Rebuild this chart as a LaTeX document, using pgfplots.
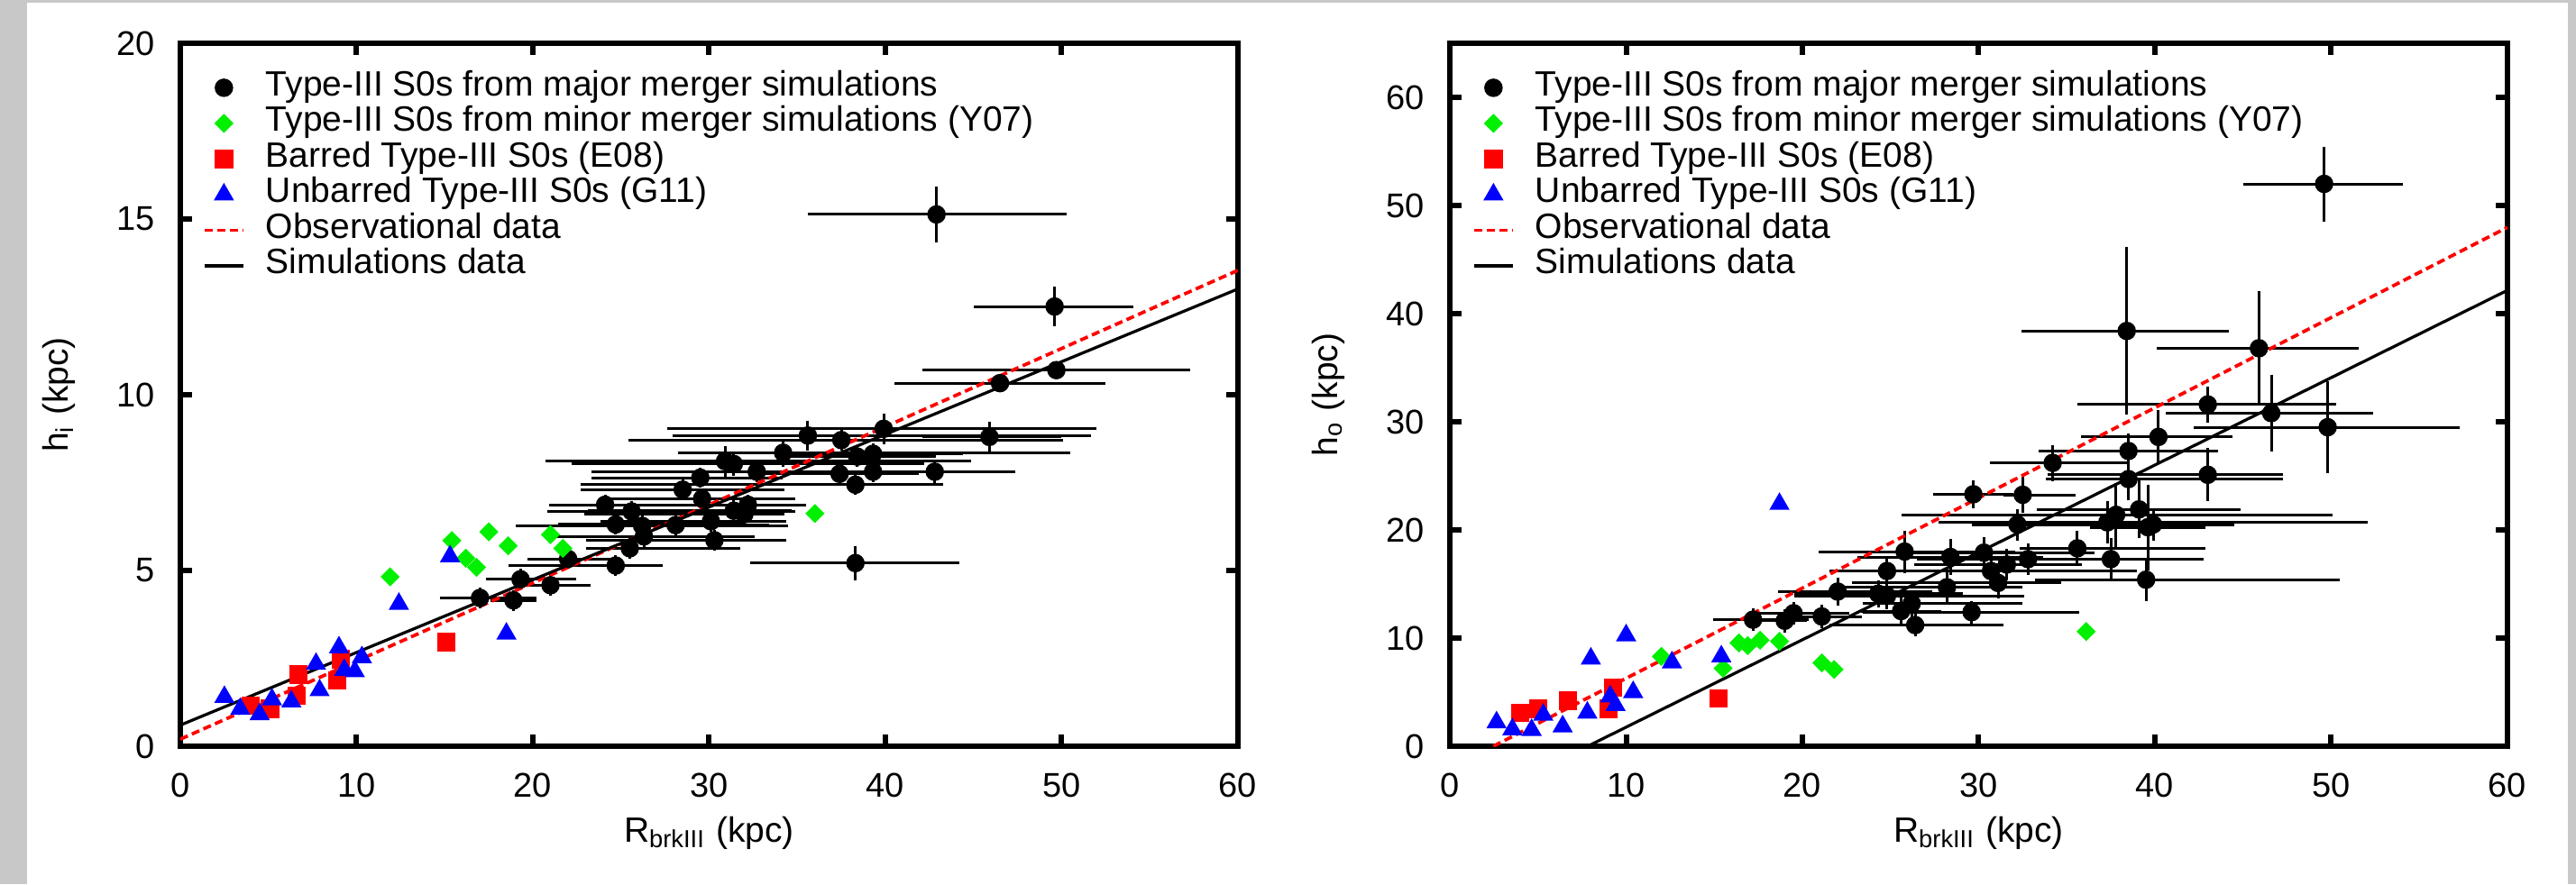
\documentclass[border=0pt]{standalone}
\usepackage{fontspec}
\setmainfont{Liberation Sans}
\usepackage{pgfplots}
\pgfplotsset{compat=1.18}
\usepackage{pgfplotstable}

\definecolor{frameg}{RGB}{200,200,200}
\definecolor{mygreen}{RGB}{0,240,0}

\pgfplotstableread{
x y xm xp ym yp
42.9 15.13 7.0 7.1 0.65 0.65
49.6 12.51 4.3 4.2 0.43 0.43
49.7 10.70 7.3 7.3 0.12 0.12
46.5 10.33 5.7 5.7 0.12 0.12
39.9 9.03 12.0 11.8 0.30 0.30
35.6 8.84 7.4 15.8 0.28 0.28
37.5 8.71 11.8 12.3 0.15 0.15
45.9 8.80 3.5 3.8 0.30 0.30
34.2 8.35 5.7 16.0 0.25 0.25
38.4 8.24 4.0 4.2 0.15 0.15
39.3 8.32 4.6 4.8 0.15 0.15
30.9 8.11 9.9 13.7 0.30 0.30
31.4 8.03 8.9 10.5 0.20 0.20
42.8 7.81 3.5 4.3 0.20 0.20
37.4 7.75 4.0 4.2 0.15 0.15
39.3 7.81 5.0 5.0 0.15 0.15
32.7 7.81 9.1 9.2 0.15 0.15
29.5 7.64 5.9 4.4 0.15 0.15
38.3 7.44 15.3 4.7 0.15 0.15
28.5 7.30 5.5 5.5 0.15 0.15
29.6 7.04 5.0 5.0 0.15 0.15
24.1 6.87 2.9 11.0 0.15 0.15
32.2 6.87 5.0 3.0 0.15 0.15
31.4 6.70 8.0 3.0 0.15 0.15
25.6 6.68 4.5 9.0 0.15 0.15
32.0 6.60 8.8 2.0 0.15 0.15
28.1 6.29 5.0 5.0 0.15 0.15
24.7 6.31 3.0 7.0 0.15 0.15
26.2 6.27 6.9 8.0 0.15 0.15
30.1 6.40 6.0 4.0 0.15 0.15
26.3 5.97 4.7 6.0 0.15 0.15
30.3 5.86 7.0 3.8 0.15 0.15
25.5 5.63 2.2 6.0 0.15 0.15
22.0 5.33 2.0 2.5 0.15 0.15
24.7 5.14 5.8 2.4 0.15 0.15
38.3 5.21 5.7 5.6 0.35 0.35
19.3 4.75 1.7 2.9 0.15 0.15
21.0 4.58 1.5 2.0 0.15 0.15
17.0 4.22 2.0 2.9 0.15 0.15
18.9 4.15 1.0 1.0 0.15 0.15
}\leftblack

\pgfplotstableread{
x y
11.9 4.82
15.4 5.85
17.5 6.10
18.6 5.70
16.2 5.35
16.8 5.09
21.0 6.02
21.7 5.63
36.0 6.62
}\leftgreen

\pgfplotstableread{
x y
4.0 1.15
5.1 1.06
6.6 1.44
6.7 2.04
8.9 1.87
9.1 2.47
15.1 2.96
}\leftred

\pgfplotstableread{
x y
2.5 1.40
3.4 1.06
4.5 0.91
5.2 1.33
6.3 1.27
7.9 1.59
7.7 2.34
9.0 2.81
9.3 2.17
9.9 2.13
10.3 2.53
12.4 4.05
15.3 5.40
18.5 3.20
}\leftblue

\pgfplotstableread{
x y xm xp ym yp
49.6 52.0 4.3 4.2 3.0 3.0
38.4 38.4 5.7 5.5 7.3 7.3
45.9 36.8 5.5 5.4 4.8 4.8
43.0 31.6 7.1 7.0 1.2 1.2
46.6 30.8 5.7 5.5 3.1 3.1
49.8 29.5 7.3 7.2 3.8 3.8
40.2 28.6 4.1 3.9 2.0 2.0
38.5 27.3 4.8 4.8 1.2 1.2
34.2 26.2 3.3 4.0 1.2 1.2
43.0 25.1 8.8 4.0 2.0 2.0
38.5 24.7 4.4 8.5 1.5 1.5
29.7 23.3 2.0 2.0 0.8 0.8
32.5 23.25 0.8 2.7 1.2 1.2
39.1 21.9 5.5 5.5 2.2 2.2
37.8 21.4 11.9 12.0 2.5 2.5
37.3 20.7 9.3 14.5 1.5 1.5
32.2 20.5 2.3 12.0 1.0 1.0
39.6 20.25 3.0 3.0 3.5 3.5
39.9 20.5 6.0 4.0 1.0 1.0
25.8 18.0 4.6 6.0 1.5 1.5
35.6 18.3 3.0 7.0 1.2 1.2
30.3 17.9 4.0 6.0 1.0 1.0
28.4 17.5 5.0 5.0 1.2 1.2
32.8 17.3 6.0 5.0 1.0 1.0
37.5 17.3 5.0 5.0 1.5 1.5
31.6 16.8 5.0 4.0 1.0 1.0
24.8 16.2 3.0 7.0 0.8 0.8
30.7 16.2 7.0 8.0 1.0 1.0
31.1 15.1 8.0 3.3 1.0 1.0
39.5 15.4 6.0 10.7 1.5 1.5
28.2 14.7 6.0 4.0 1.0 1.0
22.0 14.3 3.1 5.1 0.8 0.8
24.3 14.1 4.5 4.5 0.8 0.8
24.8 13.9 5.0 7.5 0.8 0.8
26.2 13.2 2.5 6.0 0.8 0.8
25.6 12.5 2.0 2.0 0.8 0.8
29.6 12.4 5.9 5.8 0.6 0.6
17.2 11.7 2.0 2.9 0.6 0.6
19.0 11.6 1.0 1.0 0.6 0.6
19.5 12.3 1.7 2.9 0.6 0.6
21.1 12.0 1.5 2.0 0.6 0.6
26.4 11.2 4.6 4.7 0.6 0.6
}\rightblack

\pgfplotstableread{
x y
12.0 8.3
15.5 7.2
16.4 9.55
16.9 9.3
17.6 9.8
18.7 9.7
21.1 7.7
21.8 7.1
36.1 10.6
}\rightgreen

\pgfplotstableread{
x y
4.0 3.1
5.0 3.45
6.7 4.2
9.0 3.45
9.25 5.4
15.25 4.4
}\rightred

\pgfplotstableread{
x y
2.65 2.2
3.55 1.56
4.64 1.5
5.3 2.9
6.4 1.83
7.8 3.1
8.0 8.1
9.1 4.6
9.4 3.8
10.0 10.25
10.4 5.0
12.6 7.75
15.4 8.3
18.7 22.4
}\rightblue

\pgfplotsset{
  mystyle/.style={
    scale only axis, width=234.6pt, height=156pt,
    xmin=0, xmax=60, xtick={0,10,...,60},
    axis line style={line width=1.3pt},
    tick style={line width=1.2pt, black},
    major tick length=2.6pt,
    tick align=inside,
    font=\fontsize{7.8}{9}\selectfont,
    ticklabel style={font=\fontsize{7.6}{9}\selectfont},
    /pgf/number format/assume math mode=true,
    yticklabel style={xshift=-2.2pt},
    xticklabel style={yshift=-2.5pt},
    every axis x label/.style={at={(axis description cs:0.5,-0.124)}, anchor=center},
    every axis y label/.style={at={(axis description cs:-0.1151,0.5)}, rotate=90, anchor=center},
    legend style={draw=none, fill=none, at={(axis description cs:0.0213,0.962)}, anchor=north west, inner sep=0pt, outer sep=0pt, font=\fontsize{7.8}{9}\selectfont, row sep=0pt, nodes={inner sep=0pt, text height=5.7pt, text depth=2.2pt}},
    legend cell align=left,
    legend image code/.code={\draw[mark repeat=2,mark phase=2] plot coordinates {(0pt,0pt) (4.3pt,0pt) (8.6pt,0pt)}; \path[draw=none,fill=none] (0pt,0pt) -- (13.6pt,0pt);},
  },
  markleg/.style={legend image code/.code={\draw[only marks] plot coordinates {(4.3pt,0pt)}; \path[draw=none,fill=none] (0pt,0pt) -- (13.6pt,0pt);}},
  blackpts/.style={only marks, mark=*, mark size=1.85pt, black, markleg,
    error bars/x dir=both, error bars/x explicit, error bars/y dir=both, error bars/y explicit,
    error bars/error bar style={line width=0.6pt, black},
    error bars/error mark options={line width=0.6pt, mark size=1.1pt, black}},
  greenpts/.style={only marks, color=mygreen, mark=square*, mark size=1.3pt, mark options={rotate=45}, markleg},
  redpts/.style={only marks, color=red, mark=square*, mark size=1.85pt, markleg},
  bluepts/.style={only marks, color=blue, mark=triangle*, mark size=2.2pt, markleg},
  obsline/.style={red, line width=0.75pt, dash pattern=on 1.8pt off 1pt},
  simline/.style={black, line width=0.65pt},
}

\begin{document}
\begin{tikzpicture}
\useasboundingbox (0,0) rectangle (571.4pt,196.2pt);
\fill[frameg] (0,0) rectangle (571.4pt,196.2pt);
\fill[white] (6pt,0) rectangle (569.6pt,195.6pt);

\begin{axis}[mystyle, at={(40pt,30.6pt)}, anchor=south west,
  ymin=0, ymax=20, ytick={0,5,10,15,20},
  xlabel={R\textsubscript{brkIII} (kpc)}, ylabel={h\textsubscript{i} (kpc)}]
\addplot[blackpts] table[x=x,y=y,x error minus=xm,x error plus=xp,y error minus=ym,y error plus=yp]{\leftblack};
\addlegendentry{Type-III S0s from major merger simulations}
\addplot[greenpts] table[x=x,y=y]{\leftgreen};
\addlegendentry{Type-III S0s from minor merger simulations (Y07)}
\addplot[redpts] table[x=x,y=y]{\leftred};
\addlegendentry{Barred Type-III S0s (E08)}
\addplot[bluepts] table[x=x,y=y]{\leftblue};
\addlegendentry{Unbarred Type-III S0s (G11)}
\addplot[obsline] coordinates {(0,0.2) (60,13.54)};
\addlegendentry{Observational data}
\addplot[simline] coordinates {(0,0.6) (60,13.01)};
\addlegendentry{Simulations data}
\end{axis}

\begin{axis}[mystyle, at={(321.6pt,30.6pt)}, anchor=south west,
  ymin=0, ymax=65, ytick={0,10,...,60},
  xlabel={R\textsubscript{brkIII} (kpc)}, ylabel={h\textsubscript{o} (kpc)}]
\addplot[blackpts] table[x=x,y=y,x error minus=xm,x error plus=xp,y error minus=ym,y error plus=yp]{\rightblack};
\addlegendentry{Type-III S0s from major merger simulations}
\addplot[greenpts] table[x=x,y=y]{\rightgreen};
\addlegendentry{Type-III S0s from minor merger simulations (Y07)}
\addplot[redpts] table[x=x,y=y]{\rightred};
\addlegendentry{Barred Type-III S0s (E08)}
\addplot[bluepts] table[x=x,y=y]{\rightblue};
\addlegendentry{Unbarred Type-III S0s (G11)}
\addplot[obsline] coordinates {(2.47,0) (60,47.98)};
\addlegendentry{Observational data}
\addplot[simline] coordinates {(7.82,0) (60,42.16)};
\addlegendentry{Simulations data}
\end{axis}
\end{tikzpicture}
\end{document}
